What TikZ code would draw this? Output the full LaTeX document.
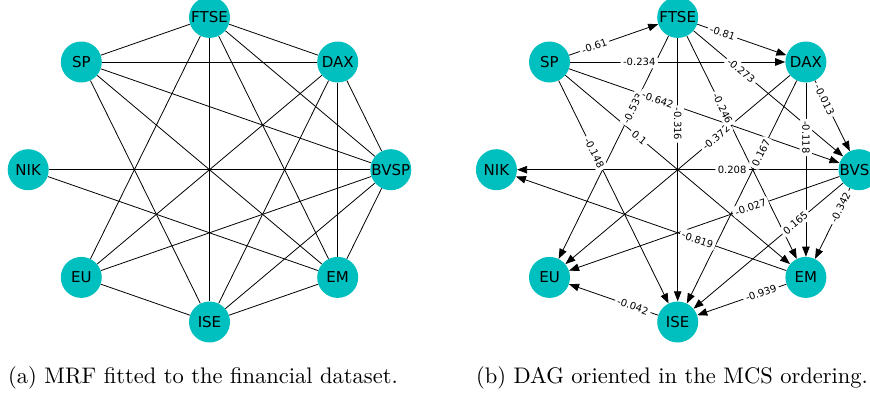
\documentclass[tikz,border=0pt]{standalone}
\usepackage{fontspec}
\newfontfamily\dvfont{DejaVu Sans}
\usetikzlibrary{arrows.meta}
\definecolor{nodecyan}{rgb}{0,0.75,0.75}
\pgfdeclarelayer{bg}
\pgfsetlayers{bg,main}
\tikzset{
  gnode/.style={circle, fill=nodecyan, minimum size=41pt, inner sep=0pt, font=\dvfont\fontsize{15}{15}\selectfont},
  uedge/.style={line width=0.8pt, black},
  dedge/.style={uedge, -{Triangle[length=10pt,width=7.5pt]}},
  elabel/.style={fill=white, inner sep=2.5pt, rounded corners=3pt, font=\dvfont\fontsize{10}{10}\selectfont, sloped, pos=0.35},
  caption/.style={anchor=base, scale=2.25}
}
\begin{document}
\begin{tikzpicture}[x=1pt,y=-1pt]
\useasboundingbox (0,0) rectangle (870,394);
\clip (0,0) rectangle (870,394);
% ---------- left graph nodes
\node[gnode] (lFTSE) at (209.5,17.4) {FTSE};
\node[gnode] (lSP)   at (81.3,62) {SP};
\node[gnode] (lDAX)  at (337.7,62) {DAX};
\node[gnode] (lNIK)  at (28.2,169.7) {NIK};
\node[gnode] (lBVSP) at (390.8,169.7) {BVSP};
\node[gnode] (lEU)   at (81.3,277.4) {EU};
\node[gnode] (lEM)   at (337.7,277.4) {EM};
\node[gnode] (lISE)  at (209.5,322) {ISE};
% ---------- right graph nodes
\node[gnode] (rFTSE) at (677.7,17.4) {FTSE};
\node[gnode] (rSP)   at (549.5,62) {SP};
\node[gnode] (rDAX)  at (805.9,62) {DAX};
\node[gnode] (rNIK)  at (496.4,169.7) {NIK};
\node[gnode] (rBVSP) at (859,169.7) {BVSP};
\node[gnode] (rEU)   at (549.5,277.4) {EU};
\node[gnode] (rEM)   at (805.9,277.4) {EM};
\node[gnode] (rISE)  at (677.7,322) {ISE};
\begin{pgfonlayer}{bg}
% ---------- left edges
\draw[uedge] (lFTSE) -- (lSP);
\draw[uedge] (lFTSE) -- (lDAX);
\draw[uedge] (lFTSE) -- (lEU);
\draw[uedge] (lFTSE) -- (lISE);
\draw[uedge] (lFTSE) -- (lEM);
\draw[uedge] (lFTSE) -- (lBVSP);
\draw[uedge] (lSP) -- (lDAX);
\draw[uedge] (lSP) -- (lBVSP);
\draw[uedge] (lSP) -- (lEM);
\draw[uedge] (lSP) -- (lISE);
\draw[uedge] (lDAX) -- (lISE);
\draw[uedge] (lDAX) -- (lEU);
\draw[uedge] (lDAX) -- (lEM);
\draw[uedge] (lDAX) -- (lBVSP);
\draw[uedge] (lNIK) -- (lBVSP);
\draw[uedge] (lNIK) -- (lEM);
\draw[uedge] (lBVSP) -- (lEM);
\draw[uedge] (lBVSP) -- (lISE);
\draw[uedge] (lBVSP) -- (lEU);
\draw[uedge] (lEU) -- (lISE);
\draw[uedge] (lEM) -- (lISE);
\end{pgfonlayer}
% ---------- right edges
\draw[dedge] (rSP) -- (rFTSE);
\draw[dedge] (rSP) -- (rDAX);
\draw[dedge] (rFTSE) -- (rDAX);
\draw[dedge] (rFTSE) -- (rEU);
\draw[dedge] (rSP) -- (rBVSP);
\draw[dedge] (rFTSE) -- (rISE);
\draw[dedge] (rSP) -- (rISE);
\draw[dedge] (rSP) -- (rEM);
\draw[dedge] (rFTSE) -- (rBVSP);
\draw[dedge] (rDAX) -- (rEU);
\draw[dedge] (rFTSE) -- (rEM);
\draw[dedge] (rDAX) -- (rISE);
\draw[dedge] (rDAX) -- (rEM);
\draw[dedge] (rDAX) -- (rBVSP);
\draw[dedge] (rBVSP) -- (rNIK);
\draw[dedge] (rBVSP) -- (rEU);
\draw[dedge] (rBVSP) -- (rISE);
\draw[dedge] (rBVSP) -- (rEM);
\draw[dedge] (rEM) -- (rNIK);
\draw[dedge] (rEM) -- (rISE);
\draw[dedge] (rISE) -- (rEU);
% ---------- right edge labels
\path (rSP.center) -- node[elabel] {-0.61} (rFTSE.center);
\path (rSP.center) -- node[elabel] {-0.234} (rDAX.center);
\path (rFTSE.center) -- node[elabel] {-0.81} (rDAX.center);
\path (rFTSE.center) -- node[elabel] {-0.533} (rEU.center);
\path (rSP.center) -- node[elabel] {-0.642} (rBVSP.center);
\path (rFTSE.center) -- node[elabel] {-0.316} (rISE.center);
\path (rSP.center) -- node[elabel] {-0.148} (rISE.center);
\path (rSP.center) -- node[elabel] {0.1} (rEM.center);
\path (rFTSE.center) -- node[elabel] {-0.273} (rBVSP.center);
\path (rDAX.center) -- node[elabel] {-0.372} (rEU.center);
\path (rFTSE.center) -- node[elabel] {-0.246} (rEM.center);
\path (rDAX.center) -- node[elabel] {0.167} (rISE.center);
\path (rDAX.center) -- node[elabel] {-0.118} (rEM.center);
\path (rDAX.center) -- node[elabel] {-0.013} (rBVSP.center);
\path (rBVSP.center) -- node[elabel] {0.208} (rNIK.center);
\path (rBVSP.center) -- node[elabel] {-0.027} (rEU.center);
\path (rBVSP.center) -- node[elabel] {0.165} (rISE.center);
\path (rBVSP.center) -- node[elabel] {-0.342} (rEM.center);
\path (rEM.center) -- node[elabel] {-0.819} (rNIK.center);
\path (rEM.center) -- node[elabel] {-0.939} (rISE.center);
\path (rISE.center) -- node[elabel] {-0.042} (rEU.center);
% ---------- captions
\node[caption] (capa) at (203,383) {(a) MRF fitted to the financial dataset.};
\node[caption] (capb) at (672,383) {(b) DAG oriented in the MCS ordering.};
\end{tikzpicture}
\end{document}
